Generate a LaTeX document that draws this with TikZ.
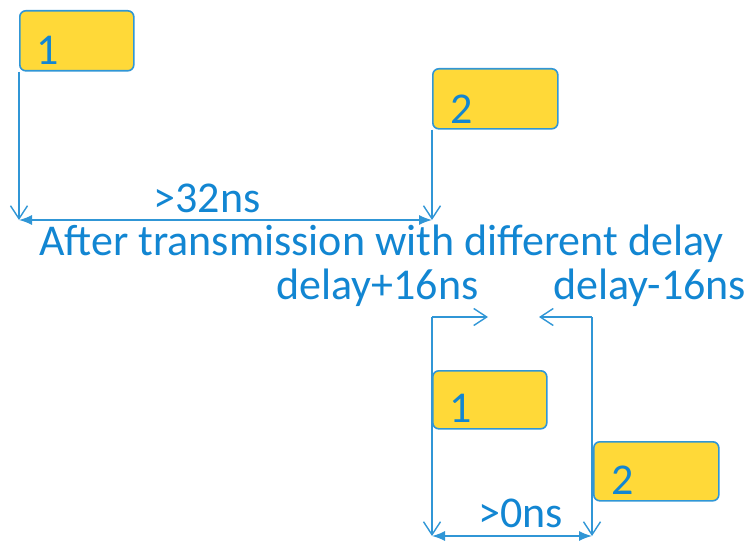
\documentclass[tikz,border=0pt]{standalone}
\usepackage{fontspec}
\setmainfont{Carlito}
\usetikzlibrary{positioning,arrows.meta}
\definecolor{txtblue}{RGB}{18,134,210}
\definecolor{lnblue}{RGB}{48,150,214}
\definecolor{slotfill}{RGB}{255,217,56}
\tikzset{slot/.style={draw=lnblue, line width=1.6pt, fill=slotfill, rounded corners=6pt, inner sep=0pt, anchor=north west}}
\tikzset{num/.style={text=txtblue, inner sep=0pt, anchor=base west}}
\tikzset{lbl/.style={text=txtblue, inner sep=0pt, anchor=base west}}
\tikzset{drop/.style={draw=lnblue, line width=1.4pt, -{Straight Barb[length=13pt, width=17pt]}}}
\tikzset{gap/.style={draw=lnblue, line width=1.4pt, {Latex[length=13pt, width=10pt]}-{Latex[length=13pt, width=10pt]}}}
\begin{document}
\begin{tikzpicture}[x=1pt, y=-1pt, font=\fontsize{44}{52}\selectfont]
  \useasboundingbox (0,0) rectangle (755,543);
  % before transmission
  \node[slot, minimum width=114pt, minimum height=60pt] (b1) at (19,10) {};
  \node[slot, minimum width=125pt, minimum height=60pt] (b2) at (432,68) {};
  \node[num] (n1) at ([shift={(17,-7)}]b1.south west) {1};
  \node[num] (n2) at ([shift={(18,-6)}]b2.south west) {2};
  \coordinate (p1) at (19,220);
  \coordinate (p2) at (432,220);
  \draw[drop] (b1.south west) -- (p1);
  \draw[drop] (b2.south west) -- (p2);
  \draw[gap] (p1) -- node[lbl, anchor=base, pos=0.455, yshift=8pt] (t32) {>32ns} (p2);
  \node[lbl] (after) at (39,255) {After transmission with different delay};
  \node[lbl] (plus) at (276,299) {delay+16ns};
  \node[lbl] (minus) at (553,299) {delay-16ns};
  % after transmission
  \coordinate (u1) at (432,317);
  \coordinate (h1) at (488,317);
  \coordinate (d1) at (432,536);
  \coordinate (u2) at (592,317);
  \coordinate (h2) at (539,317);
  \coordinate (d2) at (592,536);
  \draw[drop] (u1) -- (h1);
  \draw[drop] (u2) -- (h2);
  \draw[drop] (u1) -- (d1);
  \draw[drop] (u2) -- (d2);
  \node[slot, minimum width=114pt, minimum height=58pt] (c1) at (432,370) {};
  \node[slot, minimum width=125pt, minimum height=59pt] (c2) at (593,441) {};
  \node[num] (m1) at ([shift={(17,-7)}]c1.south west) {1};
  \node[num] (m2) at ([shift={(18,-7)}]c2.south west) {2};
  \draw[gap] (d1) -- node[lbl, anchor=base, pos=0.555, yshift=9pt] (t0) {>0ns} (d2);
\end{tikzpicture}
\end{document}
